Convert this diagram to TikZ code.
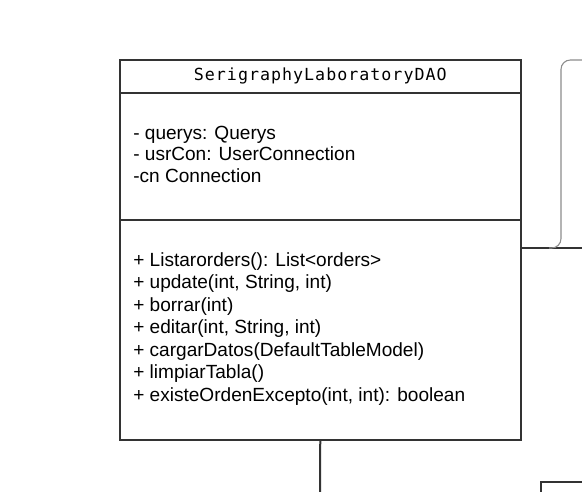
\documentclass[tikz,border=0pt]{standalone}
\usepackage{fontspec}
\setmainfont{Liberation Sans}
\newfontfamily\titlefont[LetterSpace=6]{DejaVu Sans Mono}
\usepackage{tikz}
\usetikzlibrary{positioning}

\begin{document}
\begin{tikzpicture}
			[x=0.75pt, y=-0.75pt, inner sep=0pt,
			compartment/.style	= {rectangle, minimum width=300pt},
			members/.style		= {anchor=west, align=left, black, font=\fontsize{14.3}{16.2}\selectfont},
			link/.style			= {draw, line width=1.5pt, black!80},
			bracket/.style		= {draw, line width=0.8pt, black!45, rounded corners=7pt}]

			\useasboundingbox (0,0) rectangle (582,492);
			\clip (0,0) rectangle (582,492);

			% class box
			\node [compartment, minimum height=24pt, anchor=north west] at (120,60)	(title)		{};
			\node [compartment, minimum height=95.25pt, below = 0pt of title]		(attrs)		{};
			\node [compartment, minimum height=164.25pt, below = 0pt of attrs]		(methods)	{};
			\draw [link] (title.north west) rectangle (methods.south east);
			\draw [link] (attrs.north west) -- (attrs.north east);
			\draw [link] (methods.north west) -- (methods.north east);

			\node [black, font=\titlefont\fontsize{12.5}{14}\selectfont] at (title.center)	(titletext)	{SerigraphyLaboratoryDAO};
			\node [members, right = 9.75pt of attrs.west, yshift=1.5pt]	(attrlist)	{- querys: Querys\\- usrCon: UserConnection\\-cn Connection};
			\node [members, font=\fontsize{14.3}{16.9}\selectfont, right = 9.75pt of methods.west, yshift=0.8pt]	(methodlist)
				{+ Listarorders(): List<orders>\\+ update(int, String, int)\\+ borrar(int)\\+ editar(int, String, int)\\+ cargarDatos(DefaultTableModel)\\+ limpiarTabla()\\+ existeOrdenExcepto(int, int): boolean};

			% neighbour box, cut by the border
			\node [draw, line width=1.5pt, black!80, minimum width=60pt, minimum height=30pt, anchor=north west] at (540,481)	(other)	{};

			% connectors
			\coordinate (rightout)	at (520,248);
			\coordinate (edge)		at (590,248);
			\coordinate (bottomout)	at (320,500);
			\draw [link] (methods.south) -- (bottomout);
			\draw [link] (rightout) -- (edge);

			% bracket on the right
			\coordinate (brtop)	at (590,60);
			\coordinate (brbot)	at (549,248);
			\draw [bracket] (brtop) -- (561,60) -- (561,248) -- (brbot);
\end{tikzpicture}
\end{document}
